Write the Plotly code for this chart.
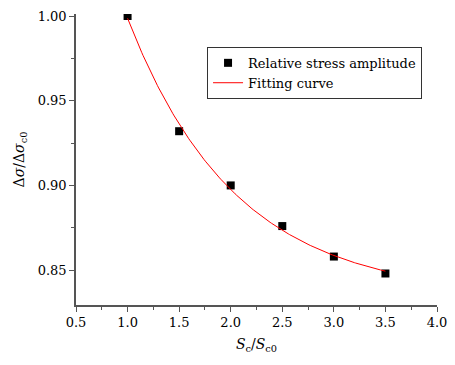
import numpy as np
import plotly.graph_objects as go

# Relative stress amplitude vs. relative section ratio
sc_ratio = [1.0, 1.5, 2.0, 2.5, 3.0, 3.5]
stress_amp = [1.000, 0.932, 0.900, 0.876, 0.858, 0.848]

x_ticks = [0.5, 1.0, 1.5, 2.0, 2.5, 3.0, 3.5, 4.0]
y_ticks = [0.85, 0.90, 0.95, 1.00]

# Exponential-decay fit: y = y0 + A * exp(-(x - x0) / t)
xs = np.array(sc_ratio)
ys = np.array(stress_amp)
best = None
for t in np.linspace(0.2, 5.0, 2000):
    basis = np.column_stack([np.ones_like(xs), np.exp(-(xs - xs[0]) / t)])
    coef, *_ = np.linalg.lstsq(basis, ys, rcond=None)
    err = np.sum((basis @ coef - ys) ** 2)
    if best is None or err < best[0]:
        best = (err, t, coef)
_, t_fit, (y0_fit, a_fit) = best
x_fit = np.linspace(xs[0], xs[-1], 200)
y_fit = y0_fit + a_fit * np.exp(-(x_fit - xs[0]) / t_fit)

font_family = "DejaVu Serif"
axis_color = "#555555"

fig = go.Figure()
fig.add_trace(go.Scatter(
    x=sc_ratio, y=stress_amp, mode="markers",
    marker=dict(symbol="square", size=8, color="black"),
    name="Relative stress amplitude",
))
fig.add_trace(go.Scatter(
    x=x_fit, y=y_fit, mode="lines",
    line=dict(color="red", width=1),
    name="Fitting curve",
))

fig.update_layout(
    width=455, height=365,
    margin=dict(l=76, r=18, t=14, b=60, autoexpand=False),
    paper_bgcolor="white", plot_bgcolor="white",
    font=dict(family=font_family, size=13, color="black"),
    showlegend=True,
    legend=dict(
        x=0.363, y=0.887, xanchor="left", yanchor="top",
        bgcolor="white", bordercolor="#333333", borderwidth=1,
        font=dict(family=font_family, size=13),
        tracegroupgap=0, itemwidth=30,
    ),
)

fig.update_xaxes(
    range=[0.5, 4.0], tickvals=x_ticks, ticktext=[f"{v:.1f}" for v in x_ticks],
    tickfont=dict(family=font_family, size=13),
    showline=True, linecolor=axis_color, linewidth=1.5, mirror=False,
    ticks="outside", ticklen=5, tickcolor=axis_color, tickwidth=1,
    showgrid=False, zeroline=False,
    minor=dict(dtick=0.25, tick0=0.5, ticks="outside", ticklen=3,
               tickcolor=axis_color, showgrid=False),
    title=dict(text="<i>S</i><sub>c</sub>/<i>S</i><sub>c0</sub>",
               font=dict(family=font_family, size=14), standoff=10),
)
fig.update_yaxes(
    range=[0.8294, 1.0012], tickvals=y_ticks, ticktext=[f"{v:.2f}" for v in y_ticks],
    tickfont=dict(family=font_family, size=13),
    showline=True, linecolor=axis_color, linewidth=1.5, mirror=False,
    ticks="outside", ticklen=5, tickcolor=axis_color, tickwidth=1,
    showgrid=False, zeroline=False,
    minor=dict(dtick=0.025, tick0=0.85, ticks="outside", ticklen=3,
               tickcolor=axis_color, showgrid=False),
    title=dict(text="Δ<i>σ</i>/Δ<i>σ</i><sub>c0</sub>",
               font=dict(family=font_family, size=14), standoff=10),
)

fig.write_html("out.html")
